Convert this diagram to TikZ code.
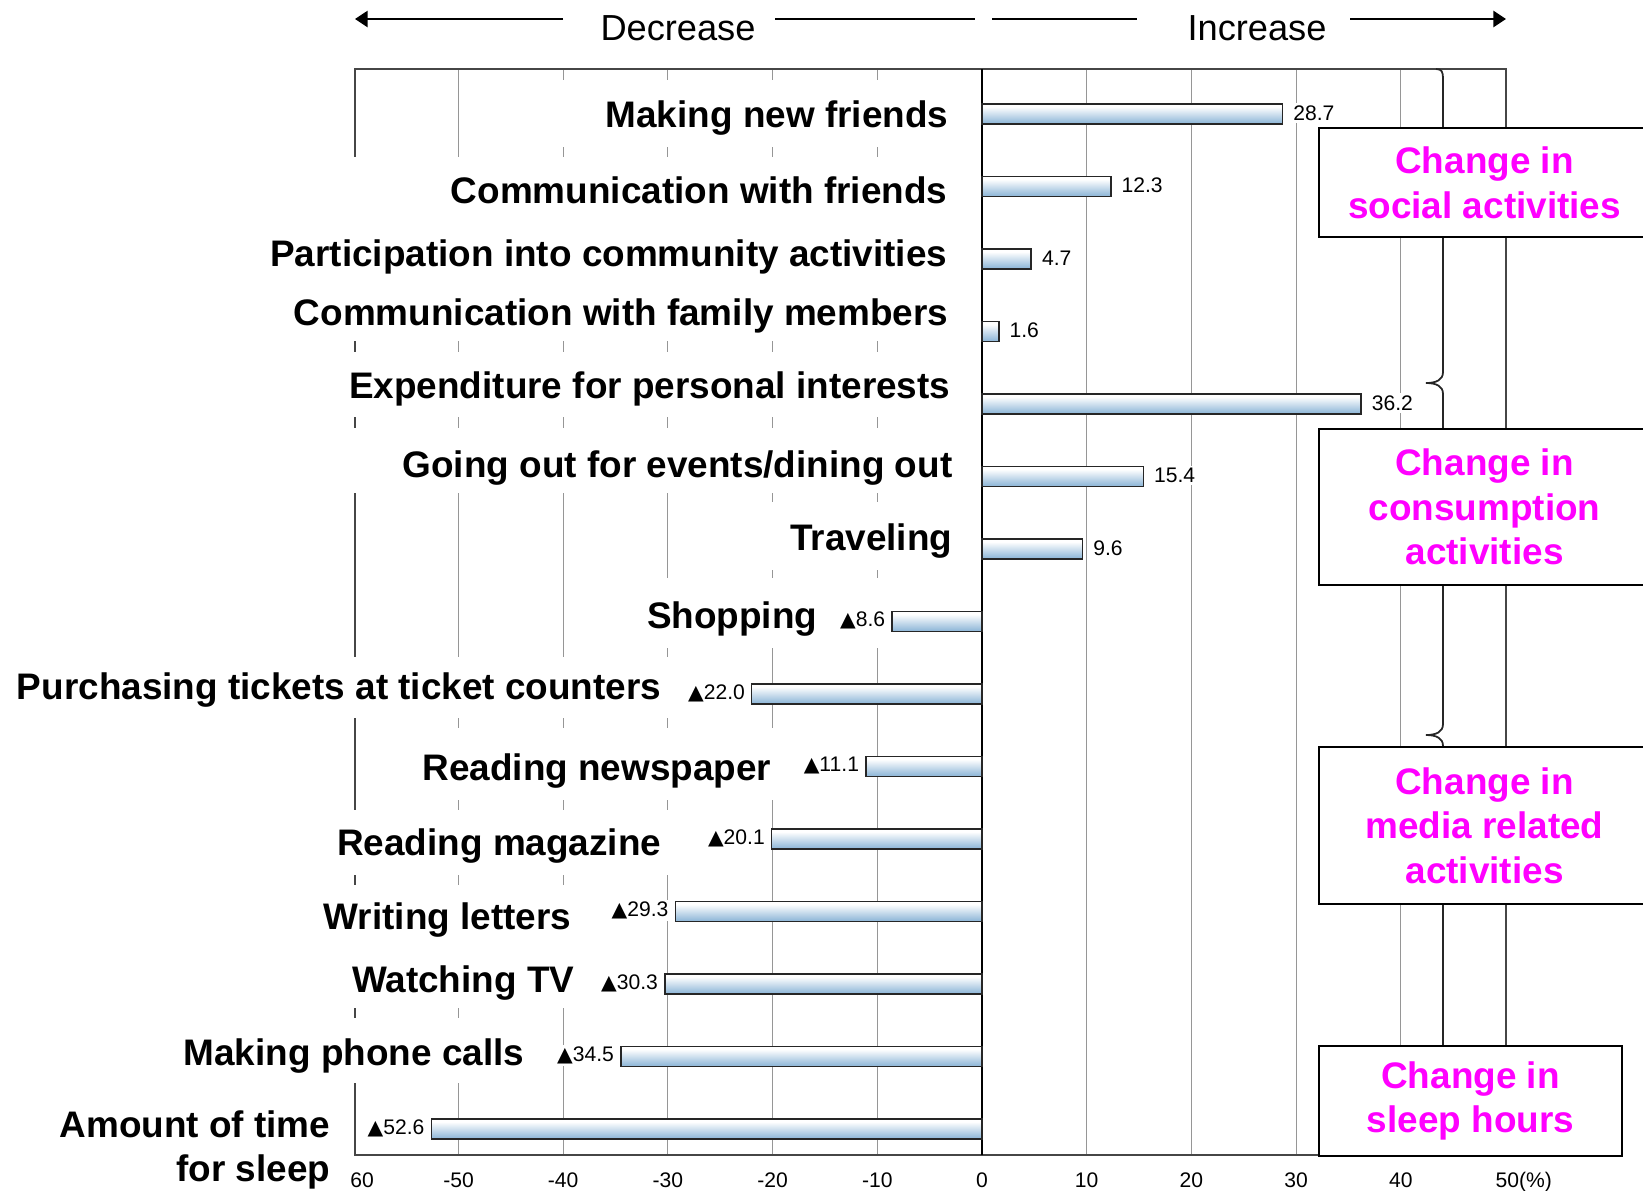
\documentclass[tikz,border=0pt]{standalone}
\usepackage{fontspec}
\setmainfont{Liberation Sans}
\newfontfamily\symfont{DejaVu Sans}
\usetikzlibrary{arrows.meta}
\definecolor{barTop}{RGB}{192,214,234}
\definecolor{barBot}{RGB}{132,176,212}
\definecolor{gridgray}{RGB}{150,150,150}
\definecolor{framegray}{RGB}{70,70,70}
\definecolor{catmagenta}{RGB}{255,0,255}
% bar fill: blue at the bottom, a white band in the upper part, light blue at the top edge
\pgfdeclareverticalshading{barshade}{100bp}{
  color(0bp)=(barBot); color(30bp)=(barBot!85!white); color(68bp)=(white);
  color(80bp)=(white); color(100bp)=(barTop)}

\begin{document}
\begin{tikzpicture}[x=0.01cm,y=-0.01cm,
  catlabel/.style={font=\bfseries\fontsize{10.5}{12.4}\selectfont, anchor=base east, inner sep=0pt},
  vallabel/.style={font=\fontsize{6}{7}\selectfont, inner sep=0.6pt, fill=white},
  axlabel/.style={font=\fontsize{6}{7}\selectfont, anchor=base, inner sep=0pt},
  headtext/.style={font=\fontsize{10.3}{12}\selectfont, inner sep=0pt},
  catbox/.style={draw=black, line width=0.55pt, fill=white, align=center, text=catmagenta,
                 font=\bfseries\fontsize{10.5}{12.7}\selectfont, inner sep=0pt},
  hbar/.style={draw=black!85, line width=0.42pt, shading=barshade},
  gridln/.style={gridgray, line width=0.3pt},
  plotframe/.style={framegray, line width=0.45pt},
  maskfill/.style={fill=white},
  headarrow/.style={line width=0.6pt, -{Triangle[length=3.6pt,width=4.6pt]}},
  headline/.style={line width=0.6pt}
]
\useasboundingbox (0,0) rectangle (1643,1190);
\clip (0,0) rectangle (1643,1190);

% vertical grid lines every 10 %
\foreach \k in {-5,-4,-3,-2,-1,1,2,3,4}
  \draw[gridln] ({982+104.7*\k},69) -- ({982+104.7*\k},1155);

% plot frame
\draw[plotframe] (355,69) rectangle (1506,1155);

% white backing of the category texts
\fill[maskfill] (530,80) rectangle (965,147);
\fill[maskfill] (250,157) rectangle (965,341);
\fill[maskfill] (330,352) rectangle (965,417);
\fill[maskfill] (330,428) rectangle (965,493);
\fill[maskfill] (760,502) rectangle (965,570);
\fill[maskfill] (630,578) rectangle (890,648);
\fill[maskfill] (0,657) rectangle (750,718);
\fill[maskfill] (400,728) rectangle (785,800);
\fill[maskfill] (330,810) rectangle (685,875);
\fill[maskfill] (300,885) rectangle (588,1008);
\fill[maskfill] (170,1018) rectangle (545,1083);
\fill[maskfill] (40,1093) rectangle (340,1190);

% zero line
\draw[black, line width=0.5pt] (982,69) -- (982,1155);

% bars with increases
\foreach \v/\t [count=\i] in {28.7/28.7,12.3/12.3,4.7/4.7,1.6/1.6,36.2/36.2,15.4/15.4,9.6/9.6} {
  \pgfmathsetmacro\yc{114+72.5*(\i-1)}
  \pgfmathsetmacro\xe{982+10.47*\v}
  \draw[hbar] (982,\yc-10) rectangle (\xe,\yc+10);
  \node[vallabel, anchor=west] (up\i) at (\xe+8,\yc-1) {\t};
}
% bars with decreases
\foreach \v/\t [count=\i from 8] in {8.6/8.6,22.0/22.0,11.1/11.1,20.1/20.1,29.3/29.3,30.3/30.3,34.5/34.5,52.6/52.6} {
  \pgfmathsetmacro\yc{114+72.5*(\i-1)}
  \pgfmathsetmacro\xe{982-10.47*\v}
  \draw[hbar] (\xe,\yc-10) rectangle (982,\yc+10);
  \node[vallabel, anchor=east] (down\i) at (\xe-4,\yc-1)
    {{\symfont\fontsize{5.8}{6}\selectfont ▲}\t};
}

% category names
\node[catlabel] (c1)  at (949,127)  {Making new friends};
\node[catlabel] (c2)  at (948,203)  {Communication with friends};
\node[catlabel] (c3)  at (948,266)  {Participation into community activities};
\node[catlabel] (c4)  at (949,325)  {Communication with family members};
\node[catlabel] (c5)  at (951,398)  {Expenditure for personal interests};
\node[catlabel] (c6)  at (953,477)  {Going out for events/dining out};
\node[catlabel] (c7)  at (953,550)  {Traveling};
\node[catlabel] (c8)  at (818,628)  {Shopping};
\node[catlabel] (c9)  at (662,699)  {Purchasing tickets at ticket counters};
\node[catlabel] (c10) at (772,780)  {Reading newspaper};
\node[catlabel] (c11) at (662,855)  {Reading magazine};
\node[catlabel] (c12) at (572,929)  {Writing letters};
\node[catlabel] (c13) at (575,992)  {Watching TV};
\node[catlabel] (c14) at (525,1065) {Making phone calls};
\node[catlabel, anchor=east, align=right] (c15) at (331,1150) {Amount of time\\for sleep};

% grouping brace
\draw[black!85, line width=0.5pt]
  (1436,69) .. controls (1442,69) and (1443,72) .. (1443,79)
  -- (1443,372) .. controls (1443,380) and (1436,383) .. (1426,383)
  .. controls (1436,383) and (1443,386) .. (1443,394)
  -- (1443,724) .. controls (1443,732) and (1436,735) .. (1426,735)
  .. controls (1436,735) and (1443,738) .. (1443,746)
  -- (1443,1046);

% group boxes
\node[catbox, minimum width=3.31cm, minimum height=1.09cm] (social) at (1484.5,182.5)
  {Change in\\social activities};
\node[catbox, minimum width=3.31cm, minimum height=1.56cm] (consume) at (1484.5,507)
  {Change in\\consumption\\activities};
\node[catbox, minimum width=3.31cm, minimum height=1.57cm] (media) at (1484.5,825.5)
  {Change in\\media related\\activities};
\node[catbox, minimum width=3.03cm, minimum height=1.10cm] (sleep) at (1470.5,1101)
  {Change in\\sleep hours};

% axis tick labels
\node[axlabel] (t60) at (362,1187) {60};
\foreach \k in {-5,-4,-3,-2,-1}
  \node[axlabel] (tm\k) at ({982+104.7*\k},1187) {-\the\numexpr-10*\k\relax};
\foreach \k in {0,1,2,3,4}
  \node[axlabel] (tp\k) at ({982+104.7*\k},1187) {\the\numexpr10*\k\relax};
\node[axlabel, anchor=base west] (t50) at (1495,1187) {50(\%)};

% direction heading
\node[headtext] (dec) at (678,28) {Decrease};
\node[headtext] (inc) at (1257,28) {Increase};
\coordinate (lend) at (355,19);
\coordinate (d1) at (563,19);
\coordinate (d2) at (775,19);
\coordinate (d3) at (975,19);
\coordinate (i1) at (992,19);
\coordinate (i2) at (1137,19);
\coordinate (i3) at (1350,19);
\coordinate (rend) at (1506,19);
\draw[headarrow] (d1) -- (lend);
\draw[headline] (d2) -- (d3);
\draw[headline] (i1) -- (i2);
\draw[headarrow] (i3) -- (rend);
\end{tikzpicture}
\end{document}
